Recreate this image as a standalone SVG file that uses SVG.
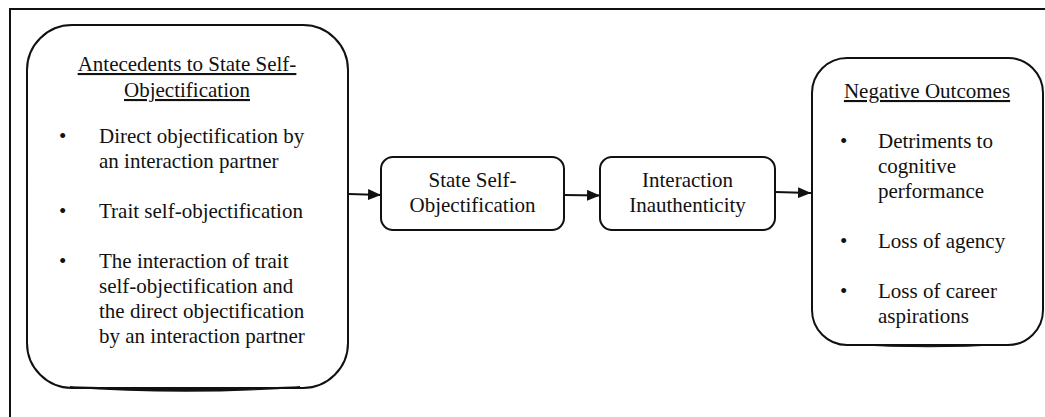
<svg xmlns="http://www.w3.org/2000/svg" width="1045" height="417" viewBox="0 0 1045 417" font-family="'Liberation Serif', 'Times New Roman', Times, serif">
<defs>
<style>
text{font-family:'Liberation Serif','Times New Roman',Times,serif;font-size:21px;fill:#111}
.c{text-anchor:middle}
.u{text-decoration:underline}
.box{fill:#fff;stroke:#111;stroke-width:2}
.ln{stroke:#111;stroke-width:2;fill:none}
</style>
<marker id="ah" viewBox="0 0 13 11" refX="13" refY="5.5" markerWidth="13" markerHeight="11" markerUnits="userSpaceOnUse" orient="auto">
<path d="M0,0 L13,5.5 L0,11 Z" fill="#111"/>
</marker>
</defs>
<rect width="1045" height="417" fill="#fff"/>
<g id="frame">
<path class="ln" d="M10,417 L10,9 L1045,9"/>
</g>
<g id="connectors">
<line class="ln" x1="349" y1="194" x2="381" y2="195" marker-end="url(#ah)"/>
<line class="ln" x1="564" y1="195" x2="600" y2="195.5" marker-end="url(#ah)"/>
<line class="ln" x1="775" y1="192" x2="811" y2="193" marker-end="url(#ah)"/>
</g>
<g id="antecedents">
<rect class="box" x="27" y="25" width="321" height="363" rx="45" ry="45"/>
<path d="M70,387 Q185,395 300,387 Q185,391 70,387 Z" fill="#111" stroke="#111" stroke-width="1.5"/>
<text class="c u" x="187" y="71">Antecedents to State Self-</text>
<text class="c u" x="187" y="97">Objectification</text>
<text x="59" y="143">•</text>
<text x="99" y="143">Direct objectification by</text>
<text x="99" y="168">an interaction partner</text>
<text x="59" y="218">•</text>
<text x="99" y="218">Trait self-objectification</text>
<text x="59" y="268">•</text>
<text x="99" y="268">The interaction of trait</text>
<text x="99" y="293">self-objectification and</text>
<text x="99" y="318">the direct objectification</text>
<text x="99" y="343">by an interaction partner</text>
</g>
<g id="state">
<rect class="box" x="381" y="157" width="183" height="73" rx="12" ry="12"/>
<text class="c" x="472.5" y="187">State Self-</text>
<text class="c" x="472.5" y="212">Objectification</text>
</g>
<g id="inauthenticity">
<rect class="box" x="600" y="157" width="175" height="73" rx="12" ry="12"/>
<text class="c" x="687.5" y="187">Interaction</text>
<text class="c" x="687.5" y="212">Inauthenticity</text>
</g>
<g id="outcomes">
<rect class="box" x="812" y="58" width="231" height="287" rx="35" ry="35"/>
<path d="M850,344.5 Q930,349 1005,344.5 Q930,347 850,344.5 Z" fill="#111" stroke="#111" stroke-width="1"/>
<text class="c u" x="927" y="98">Negative Outcomes</text>
<text x="840" y="148">•</text>
<text x="878" y="148">Detriments to</text>
<text x="878" y="173">cognitive</text>
<text x="878" y="198">performance</text>
<text x="840" y="248">•</text>
<text x="878" y="248">Loss of agency</text>
<text x="840" y="298">•</text>
<text x="878" y="298">Loss of career</text>
<text x="878" y="323">aspirations</text>
</g>
</svg>
